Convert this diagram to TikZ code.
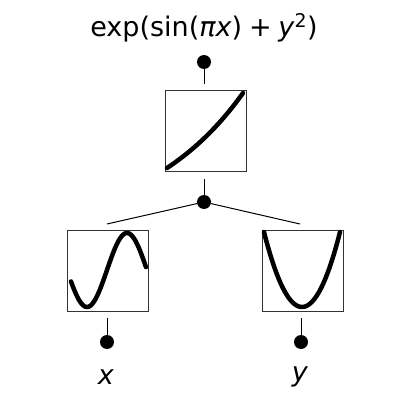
\documentclass[tikz,border=0pt]{standalone}
\usepackage{fontspec}
\setmainfont{DejaVu Sans}
\begin{document}
\begin{tikzpicture}[x=1pt,y=-1pt]
\tikzset{
 dot/.style={circle,fill=black,inner sep=0pt,minimum size=14pt},
 fbox/.style={draw=black!80,line width=0.9pt,minimum size=81pt,inner sep=0pt},
 conn/.style={line width=1pt},
 curve/.style={line width=4.5pt,line cap=round},
 lbl/.style={font=\fontsize{27}{32}\selectfont}
}
\useasboundingbox (0,0) rectangle (407,401);
% boxes
\node[fbox] (top) at (205.5,130.5) {};
\node[fbox] (bl) at (108,270.5) {};
\node[fbox] (br) at (302.5,270.5) {};
% dots
\node[dot] (dtop) at (204,62) {};
\node[dot] (dmid) at (204,202) {};
\node[dot] (dx) at (107,342) {};
\node[dot] (dy) at (301,342) {};
% connector ends
\coordinate (a1) at (204,84);
\coordinate (a2) at (204,179);
\coordinate (ltop) at (107,224);
\coordinate (rtop) at (300,224);
\coordinate (lbot) at (107,318);
\coordinate (rbot) at (301,318);
\draw[conn] (dtop) -- (a1);
\draw[conn] (a2) -- (dmid);
\draw[conn] (dmid) -- (ltop);
\draw[conn] (dmid) -- (rtop);
\draw[conn] (lbot) -- (dx);
\draw[conn] (rbot) -- (dy);
% curves
\draw[curve] plot[domain=167:243,samples=40] (\x,{168-75*(exp(0.75*(\x-167)/76)-1)/(exp(0.75)-1)});
\draw[curve] plot[domain=71:146,samples=80] (\x,{270-37*sin(((\x-87)/40*180-90))});
\draw[curve] plot[domain=264:340,samples=60] (\x,{307-75*((\x-302)/38)^2});
% labels
\node[lbl] (title) at (204,28) {exp(sin(\textit{πx})\hspace{0.25em}+\hspace{0.25em}\textit{y}\textsuperscript{2})};
\node[lbl] (lx) at (106,377) {\textit{x}};
\node[lbl] (ly) at (300,377) {\textit{y}};
\end{tikzpicture}
\end{document}
